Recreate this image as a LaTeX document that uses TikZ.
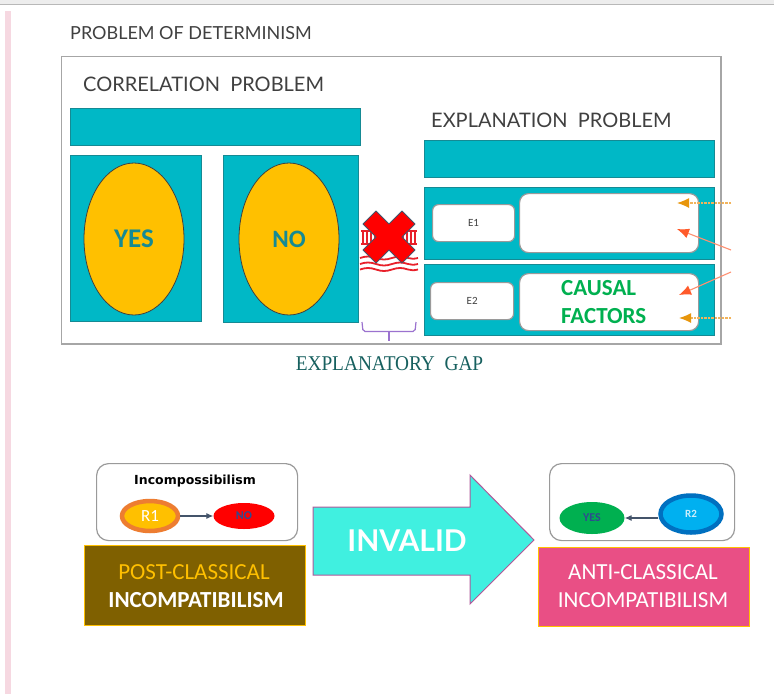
\documentclass[tikz,border=0pt]{standalone}
\usepackage{fontspec}
\setmainfont{Carlito}
\newfontfamily\latofont{Lato}
\newfontfamily\gapfont{Liberation Serif}
\newfontfamily\wideboldfont{DejaVu Sans}
\usetikzlibrary{arrows.meta,shapes.geometric}
\definecolor{tealbox}{HTML}{00B8C6}
\definecolor{tealedge}{HTML}{158A94}
\definecolor{amberfill}{HTML}{FFC000}
\definecolor{frameg}{HTML}{A6A6A6}
\definecolor{softg}{HTML}{9A9A9A}
\definecolor{textg}{HTML}{404040}
\definecolor{gapc}{HTML}{17605F}
\definecolor{arrowamber}{HTML}{E8960C}
\definecolor{amberline}{HTML}{F2B45C}
\definecolor{arrowred}{HTML}{FF5A2A}
\definecolor{redline}{HTML}{FF8F70}
\definecolor{brownb}{HTML}{7F6000}
\definecolor{pinkb}{HTML}{E94F85}
\definecolor{aqua}{HTML}{40F0E0}
\definecolor{slatearrow}{HTML}{44546A}
\definecolor{navytext}{HTML}{2F4B8F}
\definecolor{greenc}{HTML}{00B050}
\definecolor{orangec}{HTML}{ED7D31}
\definecolor{bluedark}{HTML}{0070C0}
\definecolor{bluelight}{HTML}{00B0F0}
\definecolor{stripc}{HTML}{F6D8E1}
\definecolor{bracec}{HTML}{9B72CF}
\definecolor{arrowedge}{HTML}{B0589A}
\definecolor{bridgec}{HTML}{E8202A}
\tikzset{
  tealrect/.style={draw=tealedge,line width=1pt,fill=tealbox},
  whitebox/.style={draw=softg,line width=1.2pt,fill=white,rounded corners=6pt},
  heading/.style={font=\latofont\fontsize{20}{22}\selectfont,text=textg,inner sep=0pt},
  amberarrow/.style={draw=amberline,dash pattern=on 2.5pt off 1pt,line width=1.3pt,-{Latex[length=12pt,width=10pt,color=arrowamber]}},
  redarrow/.style={draw=redline,line width=1.1pt,-{Latex[length=12pt,width=10pt,color=arrowred]}},
  linkarrow/.style={draw=slatearrow,line width=1.1pt,-{Latex[length=7pt,width=6pt]}},
  oval/.style={ellipse,inner sep=0pt,minimum width=#1},
  bigcap/.style={align=center,font=\fontsize{23}{28}\selectfont,inner sep=0pt},
  bridgered/.style={draw=bridgec,line width=1.5pt},
}
\begin{document}
\begin{tikzpicture}[x=1pt,y=-1pt]
\useasboundingbox (0,0) rectangle (774,694);
\fill[white] (0,0) rectangle (774,694);
\fill[black!7] (0,0) rectangle (774,4);
\draw[black!28,line width=1pt] (0,4.5) -- (774,4.5);
\fill[stripc] (5,11) rectangle (11,694);

\node[heading,anchor=west,font=\latofont\fontsize{18}{20}\selectfont] (title) at (70,33) {PROBLEM OF DETERMINISM};
\node[draw=frameg,line width=1.5pt,minimum width=659.5pt,minimum height=287.5pt,inner sep=0pt,anchor=north west] (frame) at (60.5,55.5) {};
\node[heading,anchor=west] (corr) at (83,84) {CORRELATION\ \ PROBLEM};
\node[heading,anchor=west] (expl) at (431,120) {EXPLANATION\ \ PROBLEM};

\node[tealrect,minimum width=290pt,minimum height=37pt,inner sep=0pt,anchor=north west] (barL) at (70,108) {};
\node[tealrect,minimum width=131pt,minimum height=166pt,inner sep=0pt,anchor=north west] (yesbox) at (70,155) {};
\node[tealrect,minimum width=135pt,minimum height=167pt,inner sep=0pt,anchor=north west] (nobox) at (223,155) {};
\node[oval=100pt,minimum height=152pt,draw=black!75,line width=.8pt,fill=amberfill,text=tealedge,font=\bfseries\fontsize{27}{30}\selectfont] (yes) at (134,239) {YES};
\node[oval=100pt,minimum height=152pt,draw=black!75,line width=.8pt,fill=amberfill,text=tealedge,font=\bfseries\fontsize{25}{30}\selectfont] (no) at (289,239) {NO};

\node[tealrect,minimum width=290pt,minimum height=37pt,inner sep=0pt,anchor=north west] (barR) at (424,140) {};
\node[tealrect,minimum width=290pt,minimum height=72pt,inner sep=0pt,anchor=north west] (rowA) at (424,187) {};
\node[tealrect,minimum width=290pt,minimum height=71pt,inner sep=0pt,anchor=north west] (rowB) at (424,264) {};
\node[whitebox,minimum width=82pt,minimum height=37pt,inner sep=0pt,anchor=north west,font=\fontsize{11}{12}\selectfont,text=textg] (e1) at (432,204) {E1};
\node[whitebox,minimum width=83pt,minimum height=37pt,inner sep=0pt,anchor=north west,font=\fontsize{11}{12}\selectfont,text=textg] (e2) at (430,282) {E2};
\node[whitebox,rounded corners=9pt,minimum width=179pt,minimum height=59pt,inner sep=0pt,anchor=north west] (big1) at (519,193) {};
\node[whitebox,rounded corners=9pt,minimum width=179pt,minimum height=57pt,inner sep=0pt,anchor=north west] (big2) at (519,273) {};
\node[align=left,anchor=west,text=greenc,font=\bfseries\fontsize{23}{28}\selectfont,inner sep=0pt] (causal) at (561,302) {CAUSAL\\FACTORS};

\coordinate (a1s) at (731,203); \coordinate (a1e) at (677,203);
\coordinate (a2s) at (731,250); \coordinate (a2e) at (677,229);
\coordinate (a3s) at (731,272); \coordinate (a3e) at (679,295);
\coordinate (a4s) at (731,318); \coordinate (a4e) at (679,318);
\draw[amberarrow] (a1s) -- (a1e);
\draw[redarrow] (a2s) -- (a2e);
\draw[redarrow] (a3s) -- (a3e);
\draw[amberarrow] (a4s) -- (a4e);

% bridge icon
\draw[bridgered,line width=1.8pt] (361,231) -- (417,231);
\draw[bridgered,line width=2.4pt] (361,244) -- (417,244);
\foreach \xx in {363,367,371,375,403,407,411,415} \draw[bridgered] (\xx,231) -- (\xx,244);
\foreach \yy in {258,264,269.5}
  \draw[bridgec,line width=1.8pt] (360,\yy) .. controls (366,\yy-2) and (370,\yy-2) .. (376,\yy) .. controls (382,\yy+2) and (386,\yy+2) .. (392,\yy) .. controls (398,\yy-2) and (402,\yy-2) .. (408,\yy) .. controls (411,\yy+1) and (414,\yy+1) .. (418,\yy);
\draw[draw=slatearrow,line width=.8pt,fill=red,line join=round] (376,211) -- (389,224) -- (402,211) -- (415,224) -- (402,237) -- (415,250) -- (402,263) -- (389,250) -- (376,263) -- (363,250) -- (376,237) -- (363,224) -- cycle;

% brace
\draw[draw=bracec,line width=1.2pt,rounded corners=2pt] (362,322) -- (363,331.5) -- (415,331.5) -- (416,322);
\draw[draw=bracec,line width=1.2pt] (389,331.5) -- (389,341);
\node[text=gapc,font=\gapfont\fontsize{21}{24}\selectfont,inner sep=0pt] (gap) at (389.5,364) {\scalebox{0.92}[1]{EXPLANATORY\ \ GAP}};

% lower left
\node[whitebox,rounded corners=12pt,minimum width=201pt,minimum height=77pt,inner sep=0pt,anchor=north west] (leftcard) at (96,463) {};
\node[font=\wideboldfont\bfseries\fontsize{12.5}{14}\selectfont,inner sep=0pt] (incomp) at (195,481) {Incompossibilism};
\node[oval=56pt,minimum height=30pt,draw=orangec,line width=4.5pt,fill=amberfill,text=white,font=\fontsize{17}{18}\selectfont] (r1) at (150,516) {R1};
\node[oval=61pt,minimum height=26pt,fill=red,text=navytext,font=\bfseries\fontsize{12}{13}\selectfont] (nosmall) at (244,516) {NO};
\draw[linkarrow] (r1) -- (nosmall);
\node[draw=amberfill,line width=1pt,fill=brownb,minimum width=221pt,minimum height=80pt,inner sep=0pt,anchor=north west] (postbox) at (84,545) {};
\node[bigcap,text=amberfill] (post1) at (194,572) {POST-CLASSICAL};
\node[bigcap,text=white,font=\bfseries\fontsize{23}{28}\selectfont] (post2) at (196,600) {INCOMPATIBILISM};

% big arrow
\draw[draw=arrowedge,line width=1pt,fill=aqua,line join=miter] (313,507) -- (470,507) -- (470,475) -- (534,540) -- (470,604) -- (470,575) -- (313,575) -- cycle;
\node[text=white,font=\latofont\bfseries\fontsize{30}{32}\selectfont,inner sep=0pt] (invalid) at (407,541) {INVALID};

% lower right
\node[whitebox,rounded corners=12pt,minimum width=185pt,minimum height=77pt,inner sep=0pt,anchor=north west] (rightcard) at (549,463) {};
\node[oval=65pt,minimum height=32pt,fill=greenc,text=navytext,font=\bfseries\fontsize{12}{13}\selectfont] (yessmall) at (592,518) {YES};
\node[oval=61pt,minimum height=37pt,draw=bluedark,line width=4.5pt,fill=bluelight,text=white!80!cyan,font=\bfseries\fontsize{11}{12}\selectfont] (r2) at (691,514) {R2};
\draw[linkarrow] (r2.west |- yessmall.east) -- (yessmall.east);
\node[draw=amberfill,line width=1pt,fill=pinkb,minimum width=211pt,minimum height=79pt,inner sep=0pt,anchor=north west] (antibox) at (538,547) {};
\node[bigcap,text=white,align=center,font=\fontsize{23}{28}\selectfont] (anti) at (643,586) {ANTI-CLASSICAL\\INCOMPATIBILISM};
\end{tikzpicture}
\end{document}
